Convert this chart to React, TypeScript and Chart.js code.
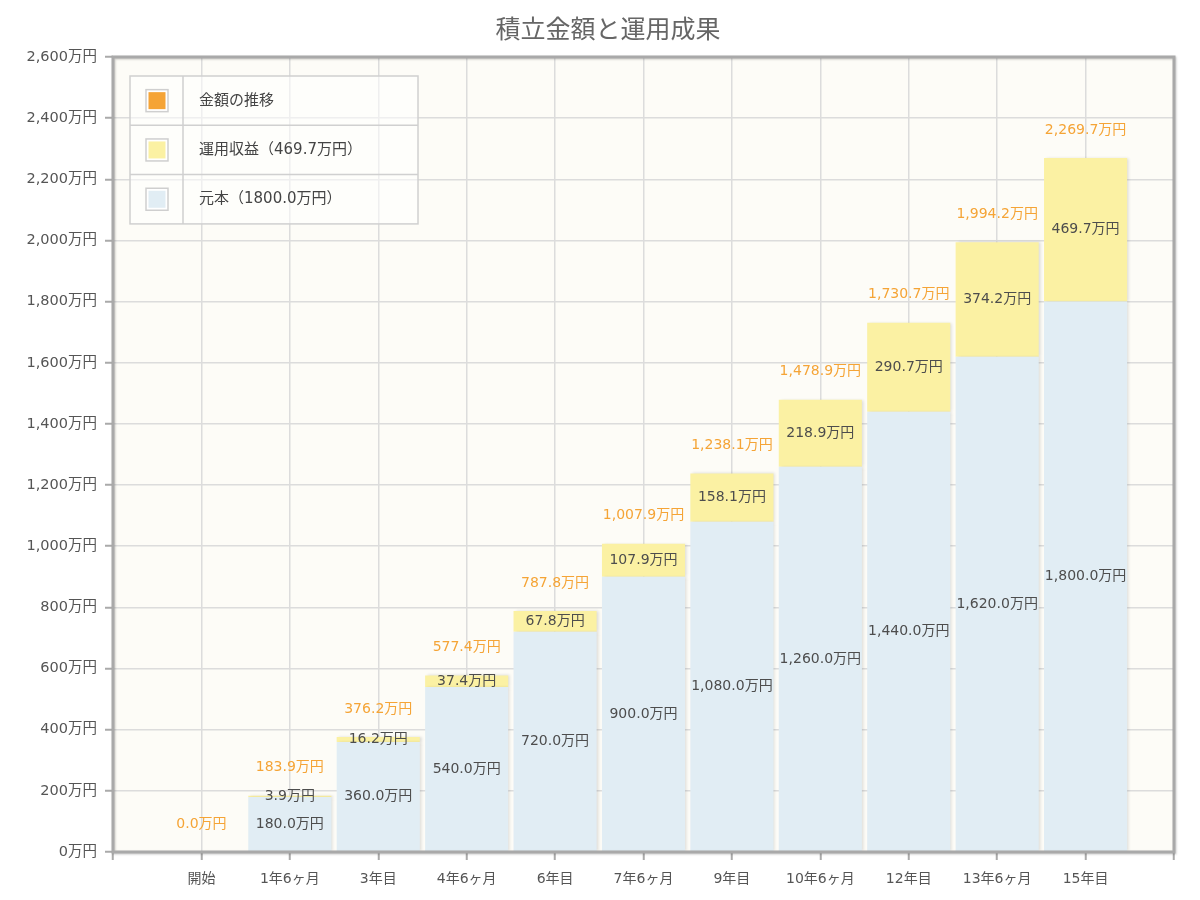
import { useEffect, useRef } from 'react'
import { Chart, registerables, Plugin } from 'chart.js'

Chart.register(...registerables)

const titleText = '積立金額と運用成果'
const categories = [
  '開始',
  '1年6ヶ月',
  '3年目',
  '4年6ヶ月',
  '6年目',
  '7年6ヶ月',
  '9年目',
  '10年6ヶ月',
  '12年目',
  '13年6ヶ月',
  '15年目',
]
const principal = [0, 180, 360, 540, 720, 900, 1080, 1260, 1440, 1620, 1800]
const gains = [0, 3.9, 16.2, 37.4, 67.8, 107.9, 158.1, 218.9, 290.7, 374.2, 469.7]
const totals = [0, 183.9, 376.2, 577.4, 787.8, 1007.9, 1238.1, 1478.9, 1730.7, 1994.2, 2269.7]
const seriesNames = ['金額の推移', '運用収益（469.7万円）', '元本（1800.0万円）']
const yMax = 2600
const yStep = 200

const FONT = '"DejaVu Sans", "Noto Sans CJK JP", sans-serif'
const ORANGE = '#f5a436'
const YELLOW = '#fbf1a3'
const BLUE = '#e1edf4'

// the chart has an empty slot on each side, labels sit on the gridlines
const pad = <T,>(arr: T[], fill: T) => [fill, ...arr, fill]

const fmt = (v: number, digits: number) =>
  v.toLocaleString('en-US', {
    minimumFractionDigits: digits,
    maximumFractionDigits: digits,
  }) + '万円'

const decor: Plugin<'bar'> = {
  id: 'decor',
  beforeDraw(chart) {
    const { ctx, chartArea: a } = chart
    ctx.save()
    ctx.fillStyle = '#fdfcf7'
    ctx.fillRect(a.left, a.top, a.width, a.height)
    // title, a little right of the canvas centre as in the original
    ctx.fillStyle = '#666'
    ctx.font = `25px ${FONT}`
    ctx.textAlign = 'center'
    ctx.textBaseline = 'middle'
    ctx.fillText(titleText, 608, 31)
    ctx.restore()
  },
  beforeDatasetsDraw(chart) {
    const { ctx } = chart
    ctx.save()
    ctx.shadowColor = 'rgba(0,0,0,0.13)'
    ctx.shadowBlur = 3
    ctx.shadowOffsetX = 2
    ctx.shadowOffsetY = 0
  },
  afterDatasetsDraw(chart) {
    const { ctx } = chart
    ctx.restore()

    ctx.save()
    ctx.font = `14px ${FONT}`
    ctx.textAlign = 'center'
    ctx.textBaseline = 'middle'

    // values inside each segment
    ;[0, 1].forEach((di) => {
      const meta = chart.getDatasetMeta(di)
      const data = chart.data.datasets[di].data as (number | null)[]
      meta.data.forEach((el: any, i) => {
        const v = data[i]
        if (v == null || v <= 0) return
        ctx.fillStyle = '#4d4d4d'
        ctx.fillText(fmt(v, 1), el.x, (el.y + el.base) / 2)
      })
    })

    // totals above each stack
    const lineMeta = chart.getDatasetMeta(2)
    const tData = chart.data.datasets[2].data as (number | null)[]
    lineMeta.data.forEach((el: any, i) => {
      const v = tData[i]
      if (v == null) return
      ctx.fillStyle = ORANGE
      ctx.fillText(fmt(v, 1), el.x, el.y - 28)
    })
    ctx.restore()
  },
  afterDraw(chart) {
    const { ctx, chartArea: a } = chart

    // legend table
    const lx = a.left + 17
    const ly = a.top + 19
    const lw = 288
    const rowH = 49.3
    const colors = [ORANGE, YELLOW, BLUE]
    ctx.save()
    ctx.fillStyle = 'rgba(255,255,255,0.55)'
    ctx.fillRect(lx, ly, lw, rowH * 3)
    ctx.strokeStyle = '#d0d0d0'
    ctx.lineWidth = 1.5
    ctx.strokeRect(lx, ly, lw, rowH * 3)
    ctx.beginPath()
    for (let r = 1; r < 3; r++) {
      ctx.moveTo(lx, ly + rowH * r)
      ctx.lineTo(lx + lw, ly + rowH * r)
    }
    ctx.moveTo(lx + 53, ly)
    ctx.lineTo(lx + 53, ly + rowH * 3)
    ctx.stroke()

    ctx.font = `15px ${FONT}`
    ctx.textBaseline = 'middle'
    ctx.textAlign = 'left'
    seriesNames.forEach((name, r) => {
      const cy = ly + rowH * r + rowH / 2
      ctx.fillStyle = '#fff'
      ctx.fillRect(lx + 16, cy - 11, 22, 22)
      ctx.strokeStyle = '#cfcfcf'
      ctx.lineWidth = 1.5
      ctx.strokeRect(lx + 16, cy - 11, 22, 22)
      ctx.fillStyle = colors[r]
      ctx.fillRect(lx + 18.5, cy - 8.5, 17, 17)
      ctx.fillStyle = '#444'
      ctx.fillText(name, lx + 69, cy)
    })
    ctx.restore()

    // frame round the plot
    ctx.save()
    ctx.shadowColor = 'rgba(0,0,0,0.2)'
    ctx.shadowBlur = 2
    ctx.shadowOffsetX = 1
    ctx.shadowOffsetY = 1
    ctx.strokeStyle = '#a9a9a9'
    ctx.lineWidth = 3
    ctx.strokeRect(a.left, a.top, a.width, a.height)
    ctx.restore()
  },
}

const SavingsChart = () => {
  const canvasRef = useRef<HTMLCanvasElement | null>(null)

  useEffect(() => {
    let chart: Chart | null = null
    if (canvasRef.current) {
      chart = new Chart(canvasRef.current, {
        type: 'bar',
        data: {
          labels: pad(categories, ''),
          datasets: [
            {
              label: seriesNames[2],
              data: pad<number | null>(principal, null),
              backgroundColor: BLUE,
              stack: 'amount',
              order: 2,
            },
            {
              label: seriesNames[1],
              data: pad<number | null>(gains, null),
              backgroundColor: YELLOW,
              stack: 'amount',
              order: 2,
            },
            {
              type: 'line' as any,
              label: seriesNames[0],
              data: pad<number | null>(totals, null),
              borderColor: ORANGE,
              backgroundColor: ORANGE,
              showLine: false,
              pointRadius: 0,
              stack: 'total',
              order: 1,
            } as any,
          ],
        },
        options: {
          animation: false,
          responsive: true,
          maintainAspectRatio: false,
          layout: { padding: { left: 0, right: 26, top: 57, bottom: 0 } },
          datasets: {
            bar: { categoryPercentage: 1, barPercentage: 0.94 },
          },
          plugins: {
            legend: { display: false },
            tooltip: { enabled: false },
            title: { display: false },
          },
          scales: {
            x: {
              type: 'category',
              stacked: true,
              offset: false,
              border: { display: false },
              grid: {
                offset: false,
                color: '#dcdcdc',
                lineWidth: 1.5,
                tickColor: '#aaa',
                tickWidth: 2,
                tickLength: 8,
              },
              ticks: {
                color: '#555',
                font: { family: FONT, size: 14 },
                padding: 11,
                maxRotation: 0,
                autoSkip: false,
              },
              afterFit: (scale) => {
                scale.height = 48
              },
            },
            y: {
              stacked: true,
              min: 0,
              max: yMax,
              border: { display: false },
              grid: {
                color: '#dcdcdc',
                lineWidth: 1.5,
                tickColor: '#aaa',
                tickWidth: 2,
                tickLength: 8,
              },
              ticks: {
                stepSize: yStep,
                color: '#555',
                font: { family: FONT, size: 14.5 },
                padding: 8,
                callback: (v) => Number(v).toLocaleString('en-US') + '万円',
              },
              afterFit: (scale) => {
                scale.width = 113
              },
            },
          },
        },
        plugins: [decor],
      })
    }
    return () => {
      if (chart) chart.destroy()
    }
  }, [])

  return (
    <div style={{ position: 'absolute', left: 0, top: 0, width: 1200, height: 900 }}>
      <canvas ref={canvasRef} />
    </div>
  )
}

export default function App() {
  return <SavingsChart />
}
